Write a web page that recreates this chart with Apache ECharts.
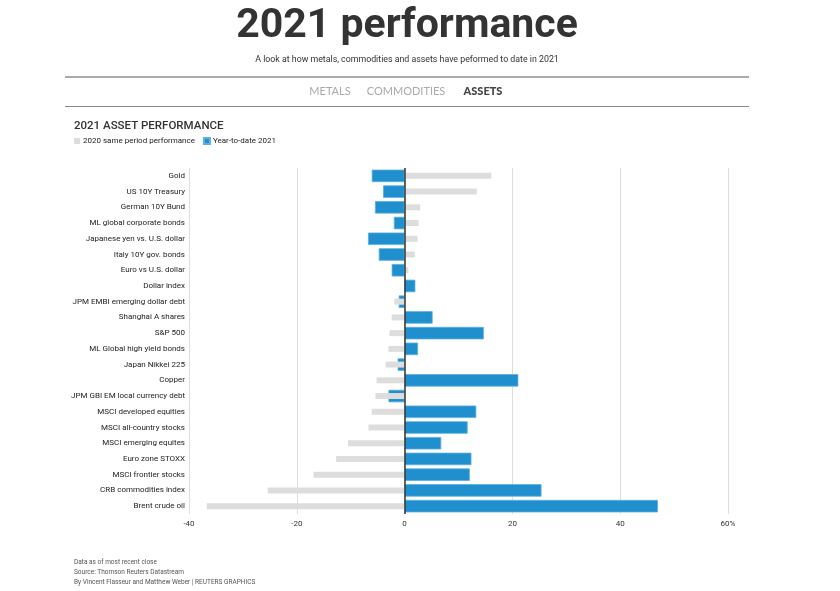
<!DOCTYPE html>
<html>
<head>
<meta charset="utf-8">
<script src="https://cdn.jsdelivr.net/npm/echarts@6/dist/echarts.min.js"></script>
<style>
html,body{margin:0;padding:0;background:#fff;}
#chart{width:840px;height:591px;}
</style>
</head>
<body>
<div id="chart"></div>
<script>
var categories = ['Gold','US 10Y Treasury','German 10Y Bund','ML global corporate bonds','Japanese yen vs. U.S. dollar','Italy 10Y gov. bonds','Euro vs U.S. dollar','Dollar index','JPM EMBI emerging dollar debt','Shanghai A shares','S&P 500','ML Global high yield bonds','Japan Nikkei 225','Copper','JPM GBI EM local currency debt','MSCI developed equities','MSCI all-country stocks','MSCI emerging equites','Euro zone STOXX','MSCI frontier stocks','CRB commodities index','Brent crude oil'];
var ytd2021 = [-6.1,-4.0,-5.5,-2.0,-6.8,-4.8,-2.4,2.0,-1.1,5.2,14.7,2.5,-1.3,21.1,-3.0,13.3,11.7,6.8,12.4,12.1,25.4,47.0];
var same2020 = [16.1,13.4,2.9,2.6,2.4,1.9,0.7,0,-1.9,-2.4,-2.8,-3.0,-3.5,-5.2,-5.4,-6.1,-6.7,-10.5,-12.7,-16.9,-25.4,-36.7];
var xTicks = {min:-40, max:60, interval:20};

var FONT = 'Roboto';
var chart = echarts.init(document.getElementById('chart'));
chart.setOption({
  animation:false,
  backgroundColor:'#fff',
  textStyle:{fontFamily:FONT},
  legend:{
    left:69, top:132, itemWidth:6, itemHeight:6, itemGap:8, icon:'rect',
    data:['2020 same period performance','Year-to-date 2021'],
    textStyle:{fontSize:8, color:'#222', fontFamily:FONT, padding:[0,0,0,-2]}
  },
  grid:{left:189, right:112, top:168, bottom:77},
  xAxis:{
    type:'value', min:xTicks.min, max:xTicks.max, interval:xTicks.interval,
    axisLine:{show:false}, axisTick:{show:false},
    splitLine:{show:true, lineStyle:{color:'#dedede', width:1}},
    axisLabel:{fontSize:8, color:'#333', margin:6, formatter:function(v){return v===60?'60%':String(v);}}
  },
  yAxis:[{
    type:'category', data:categories, inverse:true,
    axisLine:{show:false}, axisTick:{show:false},
    axisLabel:{fontSize:8, color:'#222', margin:4}
  },{
    type:'category', data:categories, inverse:true, show:false
  }],
  series:[{
    name:'Year-to-date 2021', type:'bar', yAxisIndex:0, data:ytd2021,
    barWidth:12.5, z:2,
    itemStyle:{color:'#1f8fce', borderColor:'#5db0e2', borderWidth:0.8},
    markLine:{silent:true, symbol:'none', label:{show:false},
      lineStyle:{color:'#333', type:'solid', width:1.5},
      data:[{xAxis:0}]}
  },{
    name:'2020 same period performance', type:'bar', yAxisIndex:1, data:same2020,
    barWidth:6, z:3,
    itemStyle:{color:'#dddddd'}
  }],
  graphic:[
    {type:'text', x:407, y:27, style:{text:'2021 performance', font:'bold 41px Roboto', fill:'#333', textAlign:'center', textVerticalAlign:'middle'}},
    {type:'text', x:407, y:60, style:{text:'A look at how metals, commodities and assets have peformed to date in 2021', font:'8.8px Roboto', fill:'#333', textAlign:'center', textVerticalAlign:'middle'}},
    {type:'line', shape:{x1:65, y1:77, x2:749, y2:77}, style:{stroke:'#aaa', lineWidth:2}},
    {type:'line', shape:{x1:65, y1:106.5, x2:749, y2:106.5}, style:{stroke:'#888', lineWidth:1}},
    {type:'text', x:330, y:91, style:{text:'METALS', font:'11px Lato', fill:'#aaa', textAlign:'center', textVerticalAlign:'middle'}},
    {type:'text', x:406, y:91, style:{text:'COMMODITIES', font:'11px Lato', fill:'#aaa', textAlign:'center', textVerticalAlign:'middle'}},
    {type:'text', x:483, y:91, style:{text:'ASSETS', font:'900 11px Lato', fill:'#444', textAlign:'center', textVerticalAlign:'middle'}},
    {type:'text', x:74, y:126, style:{text:'2021 ASSET PERFORMANCE', font:'500 11.5px Roboto', fill:'#333', textVerticalAlign:'middle'}},
    {type:'text', x:74, y:562, style:{text:'Data as of most recent close', font:'6.5px Roboto', fill:'#555', textVerticalAlign:'middle'}},
    {type:'text', x:74, y:572, style:{text:'Source: Thomson Reuters Datastream', font:'6.5px Roboto', fill:'#555', textVerticalAlign:'middle'}},
    {type:'text', x:74, y:582, style:{text:'By Vincent Flasseur and Matthew Weber | REUTERS GRAPHICS', font:'6.5px Roboto', fill:'#555', textVerticalAlign:'middle'}}
  ]
});
</script>
</body>
</html>
